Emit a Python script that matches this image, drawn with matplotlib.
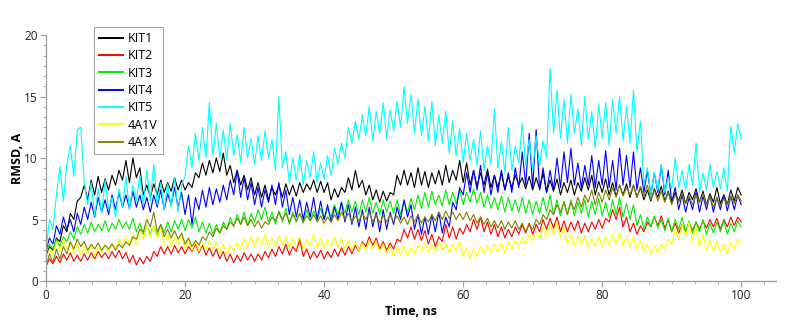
import numpy as np
import matplotlib.pyplot as plt
from matplotlib.ticker import MultipleLocator

plt.rcParams['font.family'] = ['Open Sans', 'DejaVu Sans']

# time axis, one reading every 0.5 ns
time_ns = np.arange(201) * 0.5

kit1 = [
    2.0, 2.8, 2.5, 3.5, 3.2, 4.5, 4.0, 5.5, 5.0, 6.5,
    6.8, 7.8, 6.6, 8.2, 7.0, 8.5, 7.2, 8.3, 7.4, 8.6,
    7.8, 9.0, 8.2, 9.8, 8.0, 10.0, 8.4, 9.2, 7.0, 7.8,
    6.8, 7.9, 7.0, 8.2, 7.2, 8.0, 7.3, 8.4, 7.4, 8.2,
    7.4, 8.0, 7.6, 8.8, 8.4, 9.6, 8.6, 9.8, 8.8, 10.0,
    8.9, 10.4, 8.6, 9.4, 8.0, 9.0, 7.8, 8.6, 7.4, 8.4,
    7.0, 8.0, 6.8, 7.8, 6.6, 7.6, 7.0, 7.8, 6.8, 7.9,
    7.0, 7.8, 6.9, 8.0, 7.2, 7.9, 7.4, 8.2, 7.2, 8.1,
    7.2, 8.0, 6.6, 7.5, 6.8, 7.6, 7.2, 8.4, 7.4, 9.0,
    7.6, 8.2, 7.0, 7.8, 6.6, 7.4, 6.4, 7.3, 6.5, 7.2,
    7.0, 8.6, 7.8, 9.0, 7.8, 8.8, 7.6, 9.2, 7.8, 8.9,
    7.6, 8.8, 7.9, 9.0, 7.8, 9.4, 8.0, 9.0, 8.2, 9.8,
    8.0, 9.6, 7.8, 9.0, 7.7, 8.8, 7.8, 9.1, 7.6, 8.6,
    7.6, 8.8, 7.4, 8.5, 7.6, 8.6, 7.8, 8.4, 7.5, 8.5,
    7.4, 8.4, 7.5, 8.8, 7.2, 8.2, 7.3, 8.3, 7.0, 8.0,
    7.2, 8.2, 7.0, 8.0, 7.3, 8.4, 7.4, 8.6, 7.0, 8.1,
    7.2, 8.3, 7.0, 8.0, 6.9, 7.8, 7.0, 7.9, 6.8, 7.8,
    6.8, 7.6, 6.6, 7.4, 6.5, 7.5, 6.8, 7.7, 6.5, 7.3,
    6.4, 7.2, 6.5, 7.4, 6.3, 7.2, 6.6, 7.5, 6.4, 7.3,
    6.2, 7.1, 6.4, 7.6, 6.3, 7.0, 6.2, 7.4, 6.5, 7.6,
    7.0,
]

kit2 = [
    1.2, 1.8, 1.4, 2.0, 1.5, 2.2, 1.7, 2.3, 1.6, 2.1,
    1.6, 2.2, 1.7, 2.3, 1.8, 2.4, 1.9, 2.3, 1.8, 2.4,
    1.9, 2.5, 1.8, 2.3, 1.5, 2.1, 1.3, 1.9, 1.4, 2.0,
    1.6, 2.4, 2.0, 2.8, 2.2, 2.8, 2.2, 2.9, 2.3, 2.8,
    2.2, 2.8, 2.4, 3.0, 2.3, 2.9, 2.1, 2.7, 2.0, 2.6,
    1.8, 2.4, 1.6, 2.2, 1.5, 2.1, 1.6, 2.3, 1.7, 2.2,
    1.6, 2.2, 1.7, 2.4, 1.9, 2.6, 2.0, 2.8, 2.2, 3.0,
    2.1, 2.8, 2.4, 3.4, 2.0, 2.6, 1.8, 2.4, 1.9, 2.5,
    1.8, 2.4, 1.9, 2.6, 2.0, 2.7, 2.1, 2.8, 2.2, 2.9,
    2.4, 3.2, 2.8, 3.6, 2.9, 3.5, 2.6, 3.2, 2.5, 3.1,
    2.6, 3.4, 3.2, 4.2, 3.5, 4.4, 3.4, 4.2, 3.3, 4.1,
    3.0, 3.8, 2.8, 3.6, 3.2, 4.6, 3.5, 4.4, 3.4, 4.3,
    3.8, 4.6, 4.0, 5.0, 4.2, 5.2, 4.0, 4.8, 3.8, 4.6,
    3.6, 4.4, 3.5, 4.2, 3.6, 4.4, 3.8, 4.6, 3.9, 4.7,
    3.8, 4.6, 4.0, 5.0, 4.2, 5.1, 4.3, 5.2, 4.0, 4.9,
    4.0, 4.8, 4.1, 4.9, 3.9, 4.7, 4.0, 4.8, 4.2, 5.0,
    4.3, 5.1, 4.8, 5.8, 5.0, 6.0, 4.4, 5.2, 4.0, 4.7,
    3.8, 4.5, 4.0, 4.8, 4.4, 5.2, 4.5, 5.3, 4.3, 5.0,
    4.0, 4.7, 3.9, 4.6, 4.0, 4.7, 4.1, 4.8, 4.2, 4.9,
    4.3, 5.0, 4.4, 5.1, 4.2, 5.0, 4.4, 5.2, 4.5, 5.2,
    4.8,
]

kit3 = [
    2.4, 3.0, 2.6, 3.4, 2.8, 3.6, 3.2, 4.0, 3.4, 4.4,
    3.8, 4.6, 3.9, 4.8, 4.0, 4.6, 4.1, 4.9, 4.0, 4.7,
    4.2, 5.0, 4.3, 4.8, 4.2, 5.1, 4.0, 4.7, 3.8, 4.5,
    3.8, 4.5, 3.7, 4.6, 3.9, 4.8, 4.0, 4.9, 4.2, 5.0,
    4.1, 5.0, 4.3, 5.2, 4.0, 4.8, 3.9, 4.7, 3.8, 4.6,
    3.9, 4.8, 4.2, 5.2, 4.4, 5.4, 4.6, 5.6, 4.5, 5.5,
    4.8, 5.8, 5.0, 6.0, 4.8, 5.6, 4.6, 5.7, 4.8, 5.9,
    4.6, 5.6, 4.8, 5.5, 4.7, 5.8, 4.9, 5.7, 5.0, 5.9,
    5.0, 5.9, 5.2, 6.2, 5.4, 6.4, 5.5, 6.6, 5.6, 6.5,
    5.4, 6.6, 5.6, 6.8, 5.5, 6.4, 5.4, 6.6, 5.6, 6.5,
    5.5, 6.6, 5.4, 6.5, 5.6, 6.7, 5.8, 7.0, 5.9, 7.2,
    6.0, 7.3, 6.2, 7.0, 6.1, 7.4, 6.2, 7.2, 6.3, 7.4,
    6.2, 7.2, 6.4, 7.5, 6.3, 7.2, 6.0, 7.0, 5.9, 6.8,
    5.8, 6.9, 5.6, 6.8, 5.7, 6.6, 5.6, 6.8, 5.5, 6.6,
    5.4, 6.5, 5.5, 6.8, 5.6, 7.0, 5.4, 6.6, 5.3, 6.5,
    5.4, 6.6, 5.3, 6.4, 5.5, 6.6, 5.2, 6.5, 5.4, 6.7,
    5.3, 6.4, 5.2, 6.6, 5.4, 6.8, 5.2, 6.3, 5.0, 6.2,
    4.5, 5.4, 4.2, 5.2, 4.4, 5.3, 4.3, 5.0, 4.1, 5.1,
    4.0, 5.0, 4.2, 5.2, 4.0, 4.9, 3.9, 4.8, 4.0, 5.0,
    3.8, 4.7, 3.9, 4.8, 4.0, 4.9, 3.8, 4.7, 4.0, 4.9,
    4.4,
]

kit4 = [
    2.5, 3.5, 3.0, 4.5, 3.8, 5.2, 4.2, 5.0, 4.0, 5.5,
    4.6, 6.0, 5.0, 6.4, 5.2, 6.8, 5.6, 6.6, 5.4, 7.0,
    5.8, 7.2, 6.0, 7.0, 5.9, 7.3, 6.0, 7.0, 5.8, 6.8,
    5.6, 7.0, 6.0, 7.4, 5.8, 7.1, 6.2, 7.6, 6.0, 7.2,
    5.4, 7.0, 4.6, 6.8, 5.8, 7.4, 6.0, 7.6, 6.2, 7.5,
    6.4, 7.8, 6.6, 8.2, 7.0, 9.0, 6.8, 8.4, 6.6, 8.0,
    6.2, 7.6, 6.0, 7.4, 6.4, 7.8, 6.2, 8.0, 6.0, 7.4,
    5.4, 6.8, 5.2, 6.6, 5.0, 6.4, 5.2, 6.8, 5.0, 6.5,
    5.0, 6.2, 4.8, 6.0, 5.0, 6.4, 4.8, 6.2, 4.6, 6.0,
    4.4, 5.8, 4.2, 6.0, 4.4, 5.6, 4.0, 5.8, 4.2, 5.6,
    4.6, 6.0, 5.0, 6.6, 5.2, 6.2, 4.2, 5.4, 3.8, 5.2,
    3.8, 5.4, 4.0, 5.6, 3.9, 5.2, 4.4, 6.4, 5.8, 7.6,
    7.0, 8.8, 7.2, 9.0, 7.4, 9.4, 7.2, 8.8, 7.0, 8.6,
    7.2, 9.0, 7.4, 8.8, 7.2, 9.2, 7.6, 10.5, 7.8, 12.0,
    7.6, 12.3, 7.4, 9.2, 7.2, 9.0, 7.4, 10.0, 7.6, 10.5,
    8.0, 10.8, 7.8, 9.6, 7.6, 9.4, 7.8, 10.2, 7.6, 9.8,
    7.8, 10.6, 7.6, 9.8, 7.4, 10.8, 7.8, 10.2, 7.6, 10.5,
    7.4, 9.2, 7.2, 9.0, 7.0, 8.8, 7.2, 9.4, 7.0, 9.0,
    6.4, 7.6, 5.8, 7.0, 5.6, 6.8, 5.8, 7.2, 5.6, 6.9,
    5.8, 7.0, 5.6, 6.8, 5.8, 7.0, 5.7, 6.9, 5.8, 7.0,
    6.2,
]

kit5 = [
    2.5, 5.0, 4.2, 7.0, 9.3, 6.5, 9.5, 11.0, 8.5, 12.3,
    12.5, 8.0, 6.2, 8.0, 5.3, 7.5, 5.5, 8.2, 5.8, 6.8,
    5.2, 7.5, 6.0, 8.5, 5.8, 7.8, 6.5, 8.6, 6.2, 9.0,
    6.5, 9.5, 6.2, 8.0, 5.8, 7.9, 6.0, 8.4, 5.6, 7.8,
    8.5, 11.0, 9.2, 12.0, 9.8, 12.5, 10.0, 14.5, 10.2, 12.8,
    10.0, 12.3, 9.8, 12.8, 10.2, 11.9, 9.6, 12.5, 10.0, 11.6,
    9.5, 11.8, 9.8, 12.2, 10.0, 11.5, 9.0, 15.0, 9.2, 10.5,
    8.0, 10.0, 8.2, 10.3, 7.8, 9.8, 8.4, 10.5, 8.0, 9.6,
    8.3, 10.2, 8.6, 10.8, 9.5, 11.2, 10.0, 12.5, 11.2, 13.0,
    11.5, 13.5, 11.8, 14.2, 11.4, 13.8, 12.0, 14.5, 11.6, 13.9,
    12.2, 14.6, 12.5, 15.8, 12.8, 15.2, 12.0, 14.8, 11.8, 14.2,
    11.4, 14.6, 11.0, 13.5, 11.2, 13.8, 10.4, 13.0, 10.2, 12.4,
    9.6, 12.0, 9.8, 11.5, 9.4, 12.2, 9.0, 11.0, 9.5, 14.0,
    9.2, 11.3, 8.8, 12.5, 9.0, 11.0, 9.6, 12.8, 9.4, 11.5,
    9.0, 11.8, 9.4, 11.4, 10.0, 17.3, 12.0, 15.5, 11.6, 14.8,
    11.2, 15.2, 12.0, 14.0, 11.0, 15.0, 11.5, 13.8, 10.8, 14.4,
    11.6, 14.5, 11.0, 14.8, 12.0, 15.0, 11.4, 14.2, 11.2, 15.5,
    10.5, 13.0, 7.8, 9.2, 7.0, 8.8, 7.4, 9.5, 7.2, 8.4,
    7.5, 10.0, 7.6, 9.0, 7.4, 9.5, 7.8, 11.2, 7.2, 8.8,
    7.4, 9.5, 7.6, 8.9, 7.5, 9.2, 7.3, 12.6, 10.4, 12.8,
    11.5,
]

a1v = [
    1.8, 2.6, 2.2, 3.2, 2.4, 3.4, 2.6, 3.2, 2.2, 3.0,
    2.1, 2.8, 2.2, 2.9, 2.0, 2.7, 2.3, 3.0, 2.4, 3.1,
    2.6, 3.4, 2.8, 3.6, 3.0, 3.8, 2.9, 4.2, 3.4, 4.5,
    3.6, 4.5, 3.5, 4.3, 3.0, 3.8, 2.8, 3.6, 2.9, 3.7,
    2.6, 3.4, 2.5, 3.2, 2.4, 3.1, 2.6, 3.3, 2.5, 3.2,
    2.3, 3.0, 2.2, 2.9, 2.4, 3.1, 2.6, 3.4, 2.7, 3.6,
    2.8, 3.6, 2.9, 3.8, 2.7, 3.5, 2.8, 3.7, 2.9, 3.6,
    2.7, 3.5, 2.8, 3.6, 2.6, 3.4, 2.8, 3.8, 2.7, 3.5,
    2.6, 3.4, 2.8, 3.6, 2.7, 3.5, 2.6, 3.3, 2.5, 3.2,
    2.4, 3.1, 2.5, 3.3, 2.6, 3.2, 2.4, 3.0, 2.2, 2.9,
    2.0, 2.8, 2.1, 2.9, 2.0, 2.7, 2.2, 2.9, 2.4, 3.1,
    2.3, 3.0, 2.4, 3.2, 2.5, 3.1, 2.3, 3.0, 2.4, 3.2,
    2.0, 2.7, 1.8, 2.6, 2.0, 2.8, 2.2, 2.9, 2.3, 3.0,
    2.4, 3.1, 2.3, 3.2, 2.6, 3.3, 2.8, 3.5, 3.0, 3.8,
    3.2, 4.0, 3.4, 4.4, 3.6, 4.6, 3.8, 4.8, 3.5, 4.4,
    3.0, 3.8, 2.8, 3.6, 2.9, 3.7, 2.7, 3.5, 2.8, 3.6,
    2.8, 3.6, 2.9, 3.8, 3.0, 3.9, 2.9, 3.7, 2.8, 3.6,
    2.6, 3.3, 2.4, 3.0, 2.2, 2.9, 2.3, 3.0, 2.6, 3.4,
    3.0, 4.2, 3.4, 4.6, 3.6, 4.8, 3.2, 4.4, 2.8, 3.8,
    2.5, 3.3, 2.4, 3.2, 2.3, 3.0, 2.2, 3.1, 2.6, 3.4,
    3.0,
]

a1x = [
    1.2, 2.2, 1.5, 2.6, 1.8, 2.8, 2.2, 3.2, 2.6, 3.4,
    2.8, 3.2, 2.5, 3.0, 2.6, 3.1, 2.5, 2.9, 2.6, 3.0,
    2.5, 3.0, 2.7, 3.2, 2.9, 3.6, 3.4, 4.2, 4.0, 5.0,
    4.4, 5.6, 4.0, 4.6, 3.6, 4.2, 3.5, 4.1, 3.4, 3.9,
    3.0, 3.5, 2.8, 3.3, 2.9, 3.6, 3.3, 4.0, 3.6, 4.3,
    3.9, 4.5, 4.2, 4.8, 4.5, 5.1, 4.6, 5.2, 4.5, 5.0,
    4.4, 4.9, 4.3, 4.8, 4.6, 5.2, 4.9, 5.6, 5.0, 5.5,
    4.8, 5.4, 4.9, 5.5, 4.8, 5.3, 4.9, 5.4, 4.8, 5.3,
    4.7, 5.2, 4.8, 5.4, 4.9, 5.6, 5.0, 5.5, 4.8, 5.3,
    4.9, 5.5, 5.0, 5.6, 4.8, 5.4, 4.7, 5.3, 4.8, 5.4,
    4.8, 5.3, 4.7, 5.2, 4.6, 5.3, 4.8, 5.4, 4.7, 5.2,
    4.8, 5.4, 4.9, 5.6, 5.0, 5.7, 5.1, 5.6, 5.0, 5.5,
    5.0, 5.6, 4.9, 5.4, 4.7, 5.2, 4.6, 5.1, 4.4, 4.9,
    4.3, 4.9, 4.2, 4.8, 4.3, 4.9, 4.2, 4.7, 4.0, 4.6,
    4.2, 5.0, 4.6, 5.4, 5.0, 5.8, 5.4, 6.2, 5.6, 6.4,
    5.4, 6.4, 5.8, 6.8, 6.0, 7.0, 6.4, 7.4, 6.2, 7.2,
    6.4, 7.4, 6.6, 7.6, 6.8, 7.8, 6.9, 7.6, 7.0, 7.8,
    6.8, 7.7, 6.9, 7.8, 6.6, 7.4, 6.5, 7.3, 6.4, 7.2,
    6.2, 7.0, 6.4, 7.1, 6.3, 6.9, 6.2, 7.0, 6.4, 7.1,
    6.2, 6.9, 6.0, 6.8, 6.1, 6.7, 6.2, 6.9, 6.3, 7.0,
    6.5,
]

names = ['KIT1', 'KIT2', 'KIT3', 'KIT4', 'KIT5', '4A1V', '4A1X']
series = [kit1, kit2, kit3, kit4, kit5, a1v, a1x]
colors = ['#000000', '#ff0000', '#00ee00', '#0000ff', '#00ffff', '#ffff00', '#808000']

fig = plt.figure(figsize=(8, 3.26), dpi=100)
ax = fig.add_axes([0.0575, 0.138, 0.9125, 0.7546])

for name, vals, col in zip(names, series, colors):
    ax.plot(time_ns, vals, color=col, lw=0.8, label=name)

ax.set_xlim(0, 105)
ax.set_ylim(0, 20)
ax.xaxis.set_major_locator(MultipleLocator(20))
ax.xaxis.set_minor_locator(MultipleLocator(20 / 6))
ax.yaxis.set_major_locator(MultipleLocator(5))
ax.yaxis.set_minor_locator(MultipleLocator(5 / 6))

for side in ['top', 'right']:
    ax.spines[side].set_visible(False)
for side in ['left', 'bottom']:
    ax.spines[side].set_color('#a0a0a0')
    ax.spines[side].set_linewidth(1.0)

ax.tick_params(which='major', length=4, color='#a0a0a0', labelsize=8.5, labelcolor='#222222', pad=2)
ax.tick_params(which='minor', length=2.5, color='#a0a0a0')

ax.set_xlabel('Time, ns', fontsize=9, fontweight='bold', labelpad=2)
ax.set_ylabel('RMSD, A', fontsize=9, fontweight='bold', labelpad=0)

leg = ax.legend(loc='upper left', bbox_to_anchor=(0.066, 1.033), fontsize=9,
                frameon=True, fancybox=False, edgecolor='#909090',
                handlelength=1.9, handletextpad=0.4, labelspacing=0.35,
                borderpad=0.4, borderaxespad=0)
leg.get_frame().set_linewidth(0.8)
for line in leg.get_lines():
    line.set_linewidth(1.4)

fig.savefig('out.png', dpi=100)
